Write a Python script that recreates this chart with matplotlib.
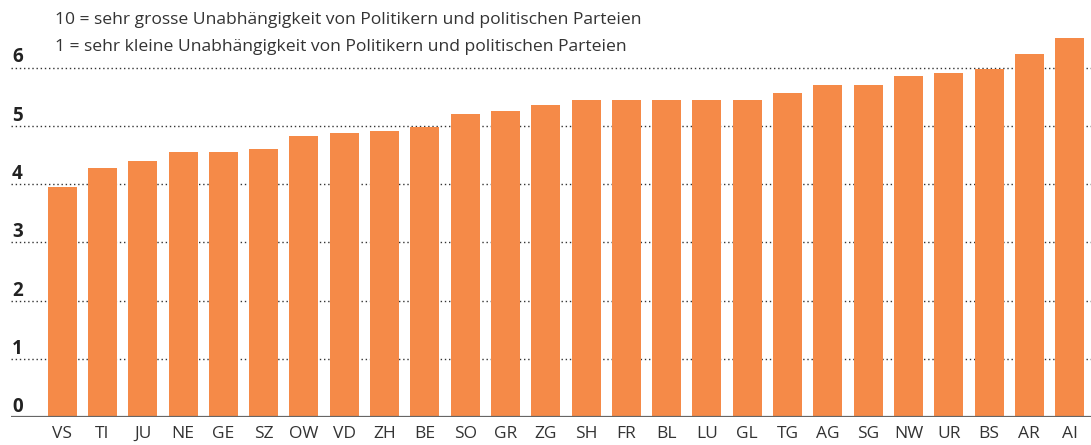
import numpy as np
import matplotlib
matplotlib.use("Agg")
import matplotlib.pyplot as plt
from matplotlib.transforms import blended_transform_factory

# Kantone, sortiert nach Wert
cantons = ["VS", "TI", "JU", "NE", "GE", "SZ", "OW", "VD", "ZH", "BE",
           "SO", "GR", "ZG", "SH", "FR", "BL", "LU", "GL", "TG", "AG",
           "SG", "NW", "UR", "BS", "AR", "AI"]
values = [3.96, 4.27, 4.39, 4.56, 4.56, 4.61, 4.83, 4.88, 4.91, 4.98,
          5.21, 5.26, 5.36, 5.44, 5.44, 5.45, 5.45, 5.45, 5.56, 5.71,
          5.71, 5.86, 5.91, 5.98, 6.24, 6.51]
y_ticks = [0, 1, 2, 3, 4, 5, 6]
legend_lines = [
    "10 = sehr grosse Unabhängigkeit von Politikern und politischen Parteien",
    "1 = sehr kleine Unabhängigkeit von Politikern und politischen Parteien",
]

BAR_COLOR = "#F58A48"
TEXT_COLOR = "#333333"

plt.rcParams["font.family"] = ["Open Sans", "DejaVu Sans"]

fig = plt.figure(figsize=(10.91, 4.45), dpi=100)
ax = fig.add_axes([0.0101, 0.0622, 0.9899, 0.9378])

x = np.arange(len(cantons))
ax.bar(x, values, width=0.72, color=BAR_COLOR, zorder=3)

ax.set_xlim(-1.27, 25.53)
ax.set_ylim(0, 7.16)

# dotted grid lines behind bars
for t in y_ticks[1:]:
    ax.axhline(t, color="#333333", lw=1.0, ls=(0, (1, 2.0)), zorder=1)
ax.axhline(0, color="#666666", lw=1.6, zorder=4)

# y labels sit above their line, at the left edge
trans = blended_transform_factory(ax.transAxes, ax.transData)
for t in y_ticks:
    ax.text(0.001, t + 0.09, str(t), transform=trans, ha="left", va="baseline",
            fontsize=13.5, fontweight="bold", color="#222222")

ax.set_xticks(x)
ax.set_xticklabels(cantons, fontsize=12.5, color=TEXT_COLOR)
ax.tick_params(axis="x", length=0, pad=6)
ax.set_yticks([])

for s in ax.spines.values():
    s.set_visible(False)

ax.text(55, 425, legend_lines[0], transform=None, fontsize=12.6, color=TEXT_COLOR, va="center")
ax.text(55, 398, legend_lines[1], transform=None, fontsize=12.6, color=TEXT_COLOR, va="center")

fig.savefig("out.png", dpi=100)
